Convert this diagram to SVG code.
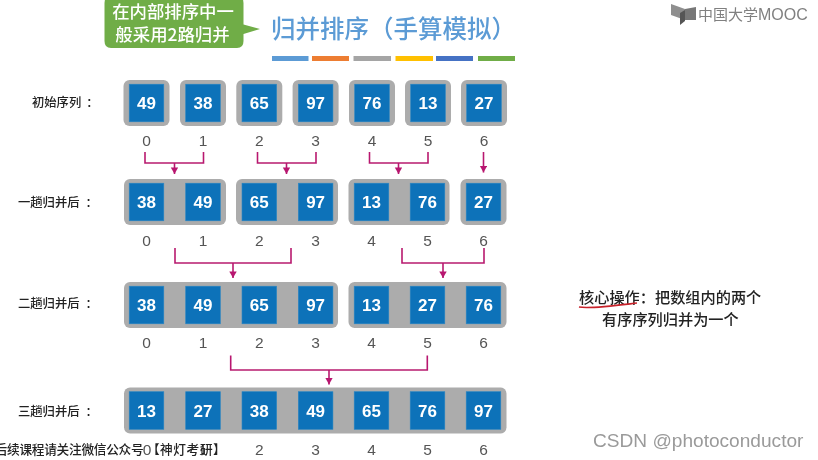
<svg xmlns="http://www.w3.org/2000/svg" width="818" height="460" viewBox="0 0 818 460">
<style>
.box{fill:#acacac}
.cell{fill:#0b72b9;stroke:#2a86c4;stroke-width:.6}
.val{font:bold 17px "Liberation Sans",Arial,sans-serif;fill:#fff;text-anchor:middle}
.idx{font:15.500px "Liberation Sans",Arial,sans-serif;fill:#555;text-anchor:middle}
.lbl{font:500 12.300px "Noto Sans CJK SC",sans-serif;fill:#222}
.note{font:500 15.200px "Noto Sans CJK SC",sans-serif;fill:#222}
.call{font:500 17.400px "Noto Sans CJK SC",sans-serif;fill:#fff;text-anchor:middle}
.conn{fill:none;stroke:#b8196f;stroke-width:1.600}
</style>
<defs>
<filter id="soft" x="0" y="0" width="100%" height="100%"><feGaussianBlur stdDeviation="0.35"/></filter>
<marker id="ah" markerUnits="userSpaceOnUse" markerWidth="9" markerHeight="8" refX="6.600" refY="3.700" orient="auto"><path d="M0 0L6.600 3.700L0 7.400Z" fill="#b8196f"/></marker>
<g id="cellshape"><rect class="cell" x="-17.300" y="-18.800" width="34.600" height="37.600"/></g>
</defs>
<rect width="818" height="460" fill="#fff"/>
<g id="scene" filter="url(#soft)">
<g id="callout">
<path d="M111-4H237Q243.500-4 243.500 3V24.500L260 29L243.500 34V41Q243.500 48 237 48H111Q104.500 48 104.500 41V3Q104.500-4 111-4Z" fill="#70ad47"/>
<text class="call" x="173" y="18">在内部排序中一</text>
<text class="call" x="172.500" y="41">般采用2路归并</text>
</g>
<g id="title">
<text x="271" y="38" font-family="'Noto Sans CJK SC',sans-serif" font-size="24.500" font-weight="500" fill="#5b9bd5">归并排序（手算模拟）</text>
<rect x="272" y="56" width="36.500" height="5" fill="#5b9bd5"/>
<rect x="312" y="56" width="37" height="5" fill="#ed7d31"/>
<rect x="353.500" y="56" width="37.500" height="5" fill="#a5a5a5"/>
<rect x="395.500" y="56" width="37.500" height="5" fill="#ffc000"/>
<rect x="436" y="56" width="37" height="5" fill="#4472c4"/>
<rect x="478" y="56" width="37" height="5" fill="#70ad47"/>
</g>
<g id="logo">
<path d="M671 4L685 9V20L671 15Z" fill="#8f8f8f"/><path d="M685 9L696 7V20L685 20Z" fill="#777"/><path d="M680 13L685 10V21L680 25Z" fill="#555"/>
<text x="698" y="20" font-family="'Noto Sans CJK SC',sans-serif" font-size="15" fill="#808080">中国大学</text>
<text x="758" y="20" font-family="'Liberation Sans',sans-serif" font-size="16" fill="#808080">MOOC</text>
</g>
<g id="row0">
<text class="lbl" x="32" y="106.500">初始序列<tspan dx="5">：</tspan></text>
<g id="r0n0"><rect class="box" x="123.500" y="80" width="46" height="46" rx="6"/><use href="#cellshape" x="146.500" y="103"/><text class="val" x="146.500" y="109">49</text></g>
<g id="r0n1"><rect class="box" x="180" y="80" width="46" height="46" rx="6"/><use href="#cellshape" x="203" y="103"/><text class="val" x="203" y="109">38</text></g>
<g id="r0n2"><rect class="box" x="236.300" y="80" width="46" height="46" rx="6"/><use href="#cellshape" x="259.300" y="103"/><text class="val" x="259.300" y="109">65</text></g>
<g id="r0n3"><rect class="box" x="292.600" y="80" width="46" height="46" rx="6"/><use href="#cellshape" x="315.600" y="103"/><text class="val" x="315.600" y="109">97</text></g>
<g id="r0n4"><rect class="box" x="349" y="80" width="46" height="46" rx="6"/><use href="#cellshape" x="372" y="103"/><text class="val" x="372" y="109">76</text></g>
<g id="r0n5"><rect class="box" x="405" y="80" width="46" height="46" rx="6"/><use href="#cellshape" x="428" y="103"/><text class="val" x="428" y="109">13</text></g>
<g id="r0n6"><rect class="box" x="461" y="80" width="46" height="46" rx="6"/><use href="#cellshape" x="484" y="103"/><text class="val" x="484" y="109">27</text></g>
</g>
<g id="idx0"><text class="idx" x="146.500" y="146">0</text><text class="idx" x="203" y="146">1</text><text class="idx" x="259.300" y="146">2</text><text class="idx" x="315.600" y="146">3</text><text class="idx" x="372" y="146">4</text><text class="idx" x="428" y="146">5</text><text class="idx" x="484" y="146">6</text></g>
<g id="row1">
<text class="lbl" x="18" y="207">一趟归并后<tspan dx="6">：</tspan></text>
<g id="r1n0"><rect class="box" x="124" y="179" width="102" height="46" rx="6"/><use href="#cellshape" x="146.500" y="202"/><text class="val" x="146.500" y="208">38</text><use href="#cellshape" x="203" y="202"/><text class="val" x="203" y="208">49</text></g>
<g id="r1n1"><rect class="box" x="236" y="179" width="102" height="46" rx="6"/><use href="#cellshape" x="259.300" y="202"/><text class="val" x="259.300" y="208">65</text><use href="#cellshape" x="315.600" y="202"/><text class="val" x="315.600" y="208">97</text></g>
<g id="r1n2"><rect class="box" x="348.500" y="179" width="101" height="46" rx="6"/><use href="#cellshape" x="371.500" y="202"/><text class="val" x="371.500" y="208">13</text><use href="#cellshape" x="427.500" y="202"/><text class="val" x="427.500" y="208">76</text></g>
<g id="r1n3"><rect class="box" x="460.500" y="179" width="46" height="46" rx="6"/><use href="#cellshape" x="483.500" y="202"/><text class="val" x="483.500" y="208">27</text></g>
</g>
<g id="idx1"><text class="idx" x="146.500" y="246">0</text><text class="idx" x="203" y="246">1</text><text class="idx" x="259.300" y="246">2</text><text class="idx" x="315.600" y="246">3</text><text class="idx" x="371.500" y="246">4</text><text class="idx" x="427.500" y="246">5</text><text class="idx" x="483.500" y="246">6</text></g>
<g id="row2">
<text class="lbl" x="18" y="307.500">二趟归并后<tspan dx="6">：</tspan></text>
<g id="r2n0"><rect class="box" x="124" y="282" width="214" height="46" rx="6"/><use href="#cellshape" x="146.500" y="305"/><text class="val" x="146.500" y="311">38</text><use href="#cellshape" x="203" y="305"/><text class="val" x="203" y="311">49</text><use href="#cellshape" x="259.300" y="305"/><text class="val" x="259.300" y="311">65</text><use href="#cellshape" x="315.600" y="305"/><text class="val" x="315.600" y="311">97</text></g>
<g id="r2n1"><rect class="box" x="348.500" y="282" width="158" height="46" rx="6"/><use href="#cellshape" x="371.500" y="305"/><text class="val" x="371.500" y="311">13</text><use href="#cellshape" x="427.500" y="305"/><text class="val" x="427.500" y="311">27</text><use href="#cellshape" x="483.500" y="305"/><text class="val" x="483.500" y="311">76</text></g>
</g>
<g id="idx2"><text class="idx" x="146.500" y="348">0</text><text class="idx" x="203" y="348">1</text><text class="idx" x="259.300" y="348">2</text><text class="idx" x="315.600" y="348">3</text><text class="idx" x="371.500" y="348">4</text><text class="idx" x="427.500" y="348">5</text><text class="idx" x="483.500" y="348">6</text></g>
<g id="row3">
<text class="lbl" x="18" y="415.500">三趟归并后<tspan dx="6">：</tspan></text>
<g id="r3n0"><rect class="box" x="124" y="387.500" width="382.500" height="46" rx="6"/><use href="#cellshape" x="146.500" y="410.500"/><text class="val" x="146.500" y="416.500">13</text><use href="#cellshape" x="203" y="410.500"/><text class="val" x="203" y="416.500">27</text><use href="#cellshape" x="259.300" y="410.500"/><text class="val" x="259.300" y="416.500">38</text><use href="#cellshape" x="315.600" y="410.500"/><text class="val" x="315.600" y="416.500">49</text><use href="#cellshape" x="371.500" y="410.500"/><text class="val" x="371.500" y="416.500">65</text><use href="#cellshape" x="427.500" y="410.500"/><text class="val" x="427.500" y="416.500">76</text><use href="#cellshape" x="483.500" y="410.500"/><text class="val" x="483.500" y="416.500">97</text></g>
</g>
<g id="idx3"><text class="idx" x="147" y="455">0</text><text class="idx" x="203" y="455">1</text><text class="idx" x="259.300" y="455">2</text><text class="idx" x="315.600" y="455">3</text><text class="idx" x="371.500" y="455">4</text><text class="idx" x="427.500" y="455">5</text><text class="idx" x="483.500" y="455">6</text></g>
<g id="connectors">
<path class="conn" d="M145 152V163H203.500V152"/><path class="conn" d="M174.500 163V174" marker-end="url(#ah)"/>
<path class="conn" d="M257.500 152V163H316V152"/><path class="conn" d="M286.500 163V174" marker-end="url(#ah)"/>
<path class="conn" d="M369.500 152V163H428V152"/><path class="conn" d="M398.500 163V174" marker-end="url(#ah)"/>
<path class="conn" d="M483.500 152V172.500" marker-end="url(#ah)"/>
<path class="conn" d="M175 248V263H291V248"/><path class="conn" d="M233 263V278" marker-end="url(#ah)"/>
<path class="conn" d="M402 248V263H484V248"/><path class="conn" d="M443 263V278" marker-end="url(#ah)"/>
<path class="conn" d="M230.700 355.500V370H427.300V355.500"/><path class="conn" d="M329 370V384.500" marker-end="url(#ah)"/>
</g>
<g id="note">
<text class="note" x="579" y="302.500">核心操作：把数组内的两个</text>
<text class="note" x="602" y="324.500">有序序列归并为一个</text>
<path d="M579 307C590 309 612 306 637 303" fill="none" stroke="#c8232c" stroke-width="1.700"/>
</g>
<text id="sub" y="454" x="-5.400 7 19.400 31.800 44.200 56.600 69 81.400 93.800 106.200 118.600 131 147 160 173.300 186.600 200 213" font-family="'Noto Sans CJK SC',sans-serif" font-size="12.700" font-weight="500" fill="#222">后续课程请关注微信公众号【神灯考研】</text>
<text id="wm" x="593" y="447" font-family="'Liberation Sans',sans-serif" font-size="19.100" fill="#9a9a9a">CSDN @photoconductor</text>
</g>
</svg>
